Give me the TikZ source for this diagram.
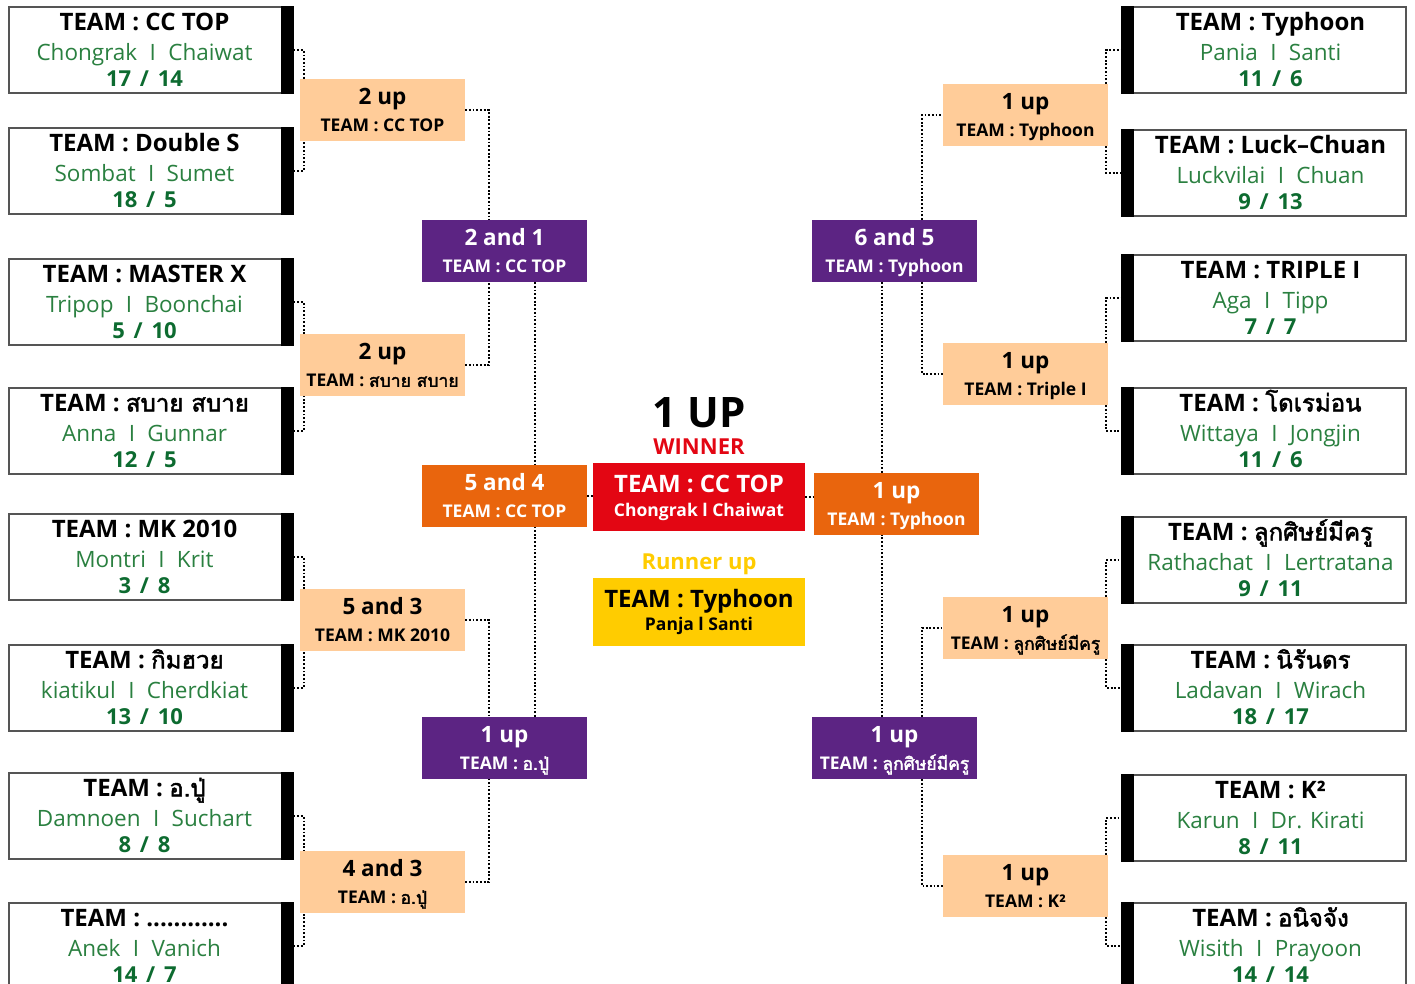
\documentclass[tikz,border=0pt]{standalone}
\usepackage{fontspec}
\setmainfont{Open Sans}
\newfontfamily\thaifont[Script=Thai, Scale=1.0, AutoFakeBold=2]{Loma}
\newcommand{\thai}[1]{{\thaifont #1}}
\newcommand{\blankteam}{............}

\definecolor{peach}{HTML}{FFCC99}
\definecolor{grape}{HTML}{5C2483}
\definecolor{semiorange}{HTML}{E9650D}
\definecolor{winred}{HTML}{E30613}
\definecolor{runyellow}{HTML}{FFCC00}
\definecolor{namegreen}{HTML}{2A8040}
\definecolor{scoregreen}{HTML}{0D6B30}
\definecolor{boxgray}{HTML}{555555}

\tikzset{
  link/.style={draw=black, line width=1.8pt, dash pattern=on 1.8pt off 1.9pt},
  teambox/.style={draw=boxgray, line width=1.1pt, minimum width=284pt, minimum height=86pt, inner sep=0pt},
  rnd/.style={minimum width=165pt, minimum height=62pt, inner sep=0pt},
  hd/.style={anchor=base, inner sep=0pt, font=\bfseries\fontsize{24}{28}\selectfont},
  pl/.style={anchor=base, inner sep=0pt, text=namegreen, font=\fontsize{22.5}{27}\selectfont},
  sc/.style={anchor=base, inner sep=0pt, text=scoregreen, font=\bfseries\fontsize{22}{26}\selectfont},
  rtop/.style={anchor=base, inner sep=0pt, font=\bfseries\fontsize{22.5}{26}\selectfont},
  rbot/.style={anchor=base, inner sep=0pt, font=\bfseries\fontsize{17.5}{21}\selectfont}
}

\begin{document}
\begin{tikzpicture}[x=1pt, y=-1pt]

    \useasboundingbox (0,0) rectangle (1415,984);

    % Equipos de la izquierda
    \foreach \i/\y/\tm/\pa/\pb/\sa/\sb in {
        1/50/CC TOP/Chongrak/Chaiwat/17/14,
        2/171/Double S/Sombat/Sumet/18/5,
        3/302/MASTER X/Tripop/Boonchai/5/10,
        4/431/\thai{สบาย สบาย}/Anna/Gunnar/12/5,
        5/557/MK 2010/Montri/Krit/3/8,
        6/688/\thai{กิมฮวย}/kiatikul/Cherdkiat/13/10,
        7/816/\thai{อ.ปู่}/Damnoen/Suchart/8/8,
        8/946/\blankteam/Anek/Vanich/14/7}
    {
        \node[teambox] (L\i) at (151,\y) {};
        \fill ([xshift=-13pt]L\i.north east) rectangle (L\i.south east);
        \node[hd] at ([xshift=-6.5pt,yshift=-24pt]L\i.north) {TEAM : \tm};
        \node[pl] at ([xshift=-6.5pt,yshift=-54pt]L\i.north) {\pa\hspace{0.55em}I\hspace{0.55em}\pb};
        \node[sc] at ([xshift=-6.5pt,yshift=-80pt]L\i.north) {\sa\hspace{0.4em}/\hspace{0.4em}\sb};
    }

    % Equipos de la derecha
    \foreach \i/\y/\tm/\pa/\pb/\sa/\sb in {
        1/50/Typhoon/Pania/Santi/11/6,
        2/173/Luck–Chuan/Luckvilai/Chuan/9/13,
        3/298/TRIPLE I/Aga/Tipp/7/7,
        4/431/\thai{โดเรม่อน}/Wittaya/Jongjin/11/6,
        5/560/\thai{ลูกศิษย์มีครู}/Rathachat/Lertratana/9/11,
        6/688/\thai{นิรันดร}/Ladavan/Wirach/18/17,
        7/818/K²/Karun/Dr. Kirati/8/11,
        8/946/\thai{อนิจจัง}/Wisith/Prayoon/14/14}
    {
        \node[teambox] (R\i) at (1264,\y) {};
        \fill (R\i.north west) rectangle ([xshift=13pt]R\i.south west);
        \node[hd] at ([xshift=6.5pt,yshift=-24pt]R\i.north) {TEAM : \tm};
        \node[pl] at ([xshift=6.5pt,yshift=-54pt]R\i.north) {\pa\hspace{0.55em}I\hspace{0.55em}\pb};
        \node[sc] at ([xshift=6.5pt,yshift=-80pt]R\i.north) {\sa\hspace{0.4em}/\hspace{0.4em}\sb};
    }

    % Resultados de cada ronda
    \foreach \nm/\x/\y/\col/\c/\a/\b in {
        P1/382.5/110/peach/black/2 up/CC TOP,
        P2/382.5/365/peach/black/2 up/\thai{สบาย สบาย},
        P3/382.5/620/peach/black/5 and 3/MK 2010,
        P4/382.5/882/peach/black/4 and 3/\thai{อ.ปู่},
        Q1/1025.5/115/peach/black/1 up/Typhoon,
        Q2/1025.5/374/peach/black/1 up/Triple I,
        Q3/1025.5/628/peach/black/1 up/\thai{ลูกศิษย์มีครู},
        Q4/1025.5/886/peach/black/1 up/K²,
        U1/504.5/251/grape/white/2 and 1/CC TOP,
        U2/504.5/748/grape/white/1 up/\thai{อ.ปู่},
        V1/894.5/251/grape/white/6 and 5/Typhoon,
        V2/894.5/748/grape/white/1 up/\thai{ลูกศิษย์มีครู},
        S1/504.5/496/semiorange/white/5 and 4/CC TOP,
        S2/896.5/504/semiorange/white/1 up/Typhoon}
    {
        \node[rnd, fill=\col] (\nm) at (\x,\y) {};
        \node[rtop, text=\c] at ([yshift=-26pt]\nm.north) {\a};
        \node[rbot, text=\c] at ([yshift=-53pt]\nm.north) {TEAM : \b};
    }

    % Final
    \node[rnd, fill=winred, minimum width=212pt, minimum height=68pt] (W) at (699,497) {};
    \node[hd, text=white] at ([yshift=-30pt]W.north) {TEAM : CC TOP};
    \node[rbot, text=white] at ([yshift=-54pt]W.north) {Chongrak l Chaiwat};
    \node[rnd, fill=runyellow, minimum width=212pt, minimum height=68pt] (RU) at (699,612) {};
    \node[hd] at ([yshift=-30pt]RU.north) {TEAM : Typhoon};
    \node[rbot] at ([yshift=-53pt]RU.north) {Panja l Santi};
    \node[anchor=base, inner sep=0pt, font=\bfseries\fontsize{42}{44}\selectfont] (final) at (699,427) {1 UP};
    \node[anchor=base, inner sep=0pt, text=winred, font=\bfseries\fontsize{22}{26}\selectfont] (winner) at (699,454) {WINNER};
    \node[anchor=base, inner sep=0pt, text=runyellow, font=\bfseries\fontsize{22}{26}\selectfont] (runner) at (699,569) {Runner up};

    % Lineas de la izquierda
    \draw[link] (L1.east) -| ([xshift=4pt]P1.north west);
    \draw[link] (L2.east) -| ([xshift=4pt]P1.south west);
    \draw[link] (L3.east) -| ([xshift=4pt]P2.north west);
    \draw[link] (L4.east) -| ([xshift=4pt]P2.south west);
    \draw[link] (L5.east) -| ([xshift=4pt]P3.north west);
    \draw[link] (L6.east) -| ([xshift=4pt]P3.south west);
    \draw[link] (L7.east) -| ([xshift=4pt]P4.north west);
    \draw[link] (L8.east) -| ([xshift=4pt]P4.south west);
    \draw[link] (P1.east) -| ([xshift=-15.5pt]U1.north);
    \draw[link] (P2.east) -| ([xshift=-15.5pt]U1.south);
    \draw[link] (P3.east) -| ([xshift=-15.5pt]U2.north);
    \draw[link] (P4.east) -| ([xshift=-15.5pt]U2.south);
    \draw[link] ([xshift=30.5pt]U1.south) -- ([xshift=30.5pt]S1.north);
    \draw[link] ([xshift=30.5pt]U2.north) -- ([xshift=30.5pt]S1.south);
    \draw[link] (S1.east) -- (S1.east -| W.west);

    % Lineas de la derecha
    \coordinate (v1b) at ([xshift=-12.5pt]V1.south);
    \coordinate (v2t) at ([xshift=-12.5pt]V2.north);
    \draw[link] (W.east) -- (W.east -| S2.west);
    \draw[link] (v1b) -- (v1b |- S2.north);
    \draw[link] (v2t) -- (v2t |- S2.south);
    \draw[link] ([xshift=27.5pt]V1.north) |- (Q1.west);
    \draw[link] ([xshift=27.5pt]V1.south) |- (Q2.west);
    \draw[link] ([xshift=27.5pt]V2.north) |- (Q3.west);
    \draw[link] ([xshift=27.5pt]V2.south) |- (Q4.west);
    \draw[link] ([xshift=-2pt]Q1.north east) |- (R1.west);
    \draw[link] ([xshift=-2pt]Q1.south east) |- (R2.west);
    \draw[link] ([xshift=-2pt]Q2.north east) |- (R3.west);
    \draw[link] ([xshift=-2pt]Q2.south east) |- (R4.west);
    \draw[link] ([xshift=-2pt]Q3.north east) |- (R5.west);
    \draw[link] ([xshift=-2pt]Q3.south east) |- (R6.west);
    \draw[link] ([xshift=-2pt]Q4.north east) |- (R7.west);
    \draw[link] ([xshift=-2pt]Q4.south east) |- (R8.west);

\end{tikzpicture}
\end{document}
